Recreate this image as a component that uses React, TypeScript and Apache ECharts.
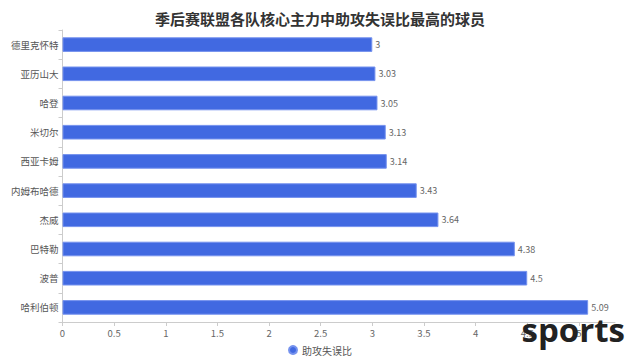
import React, { useEffect, useRef } from "react";
import * as echarts from "echarts";

const players = ["德里克怀特", "亚历山大", "哈登", "米切尔", "西亚卡姆", "内姆布哈德", "杰威", "巴特勒", "波普", "哈利伯顿"];
const ratios = [3, 3.03, 3.05, 3.13, 3.14, 3.43, 3.64, 4.38, 4.5, 5.09];
const seriesName = "助攻失误比";
const titleText = "季后赛联盟各队核心主力中助攻失误比最高的球员";
const watermark = "sports";

const FONT = "'Noto Sans CJK SC', 'Noto Sans', sans-serif";

export default function App() {
  const ref = useRef<HTMLDivElement>(null);
  useEffect(() => {
    if (!ref.current) return;
    const chart = echarts.init(ref.current, undefined, { renderer: "svg" });
    chart.setOption({
      animation: false,
      textStyle: { fontFamily: FONT },
      title: {
        text: titleText,
        left: "center",
        top: -2,
        textStyle: { fontSize: 15, fontWeight: "bold", color: "#333", fontFamily: FONT },
      },
      legend: {
        top: 337,
        left: "center",
        padding: 0,
        icon: "circle",
        itemWidth: 8,
        itemHeight: 8,
        itemGap: 4,
        textStyle: { fontSize: 10, color: "#555", fontFamily: FONT },
        data: [seriesName],
      },
      grid: { left: 51.5, right: 17, top: 22, bottom: 41, containLabel: false },
      xAxis: {
        type: "value",
        min: 0,
        max: 5.35,
        interval: 0.5,
        splitLine: { show: false },
        axisLine: { show: true, lineStyle: { color: "#ccc" } },
        axisTick: { show: true, length: 4, lineStyle: { color: "#ccc" } },
        axisLabel: { fontSize: 9.5, color: "#666", margin: 6, fontFamily: FONT, showMaxLabel: false },
      },
      yAxis: {
        type: "category",
        inverse: true,
        data: players,
        axisLine: { show: true, lineStyle: { color: "#ccc" } },
        axisTick: { show: true, length: 4, lineStyle: { color: "#ccc" } },
        axisLabel: { fontSize: 9.5, color: "#555", margin: 4, fontFamily: FONT },
      },
      series: [
        {
          name: seriesName,
          type: "bar",
          data: ratios,
          barWidth: "50%",
          itemStyle: { color: "#4169E1", borderColor: "#7592ee", borderWidth: 1 },
          label: {
            show: true,
            position: "right",
            distance: 3,
            fontSize: 9,
            color: "#666",
            fontFamily: FONT,
          },
        },
      ],
      graphic: [
        {
          type: "text",
          right: 7,
          top: 305,
          z: 100,
          style: {
            text: watermark,
            fontSize: 33,
            fontWeight: "bold",
            fontFamily: "'Open Sans', sans-serif",
            fill: "#222",
          },
        },
      ],
    });
    return () => chart.dispose();
  }, []);
  return <div ref={ref} style={{ width: 624, height: 355 }} />;
}
